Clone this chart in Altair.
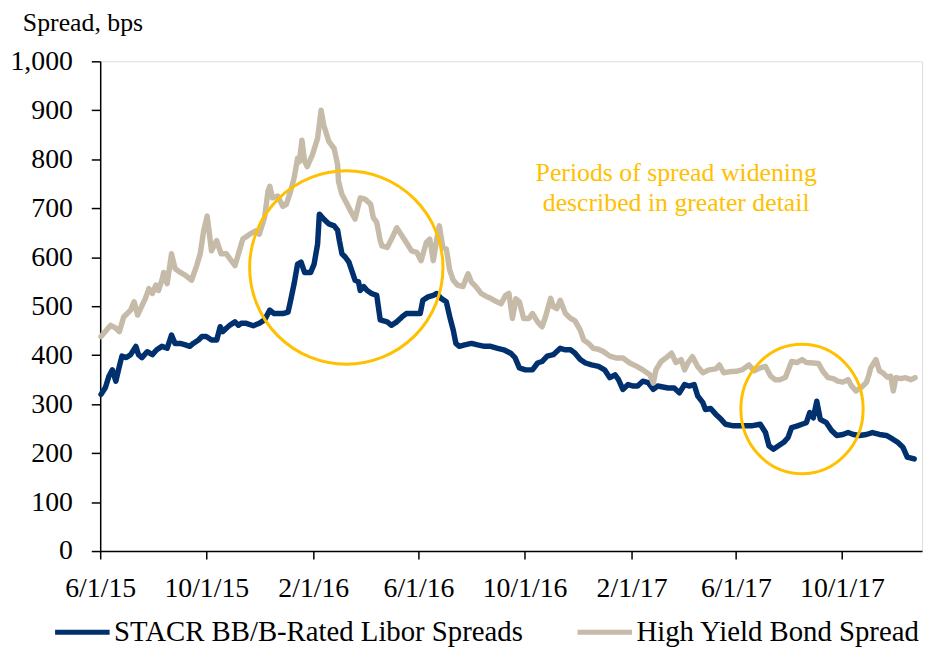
import altair as alt
import pandas as pd

# ---------------- data ----------------
START = "2015-06-01"          # day 0 of the day offsets below
series_names = ["STACR BB/B-Rated Libor Spreads", "High Yield Bond Spread"]
series_colors = ["#00306E", "#C6BBA8"]

# STACR BB/B-rated Libor spreads (days since 6/1/15, bps)
stacr_day = [1, 6, 10, 14, 18, 22, 25, 30, 35, 41,
             44, 48, 54, 60, 65, 71, 77, 82, 86, 92,
             98, 103, 107, 113, 117, 122, 128, 134, 138, 141,
             145, 149, 155, 159, 162, 168, 176, 183, 189, 195,
             200, 210, 216, 219, 223, 227, 231, 235, 242, 246,
             250, 252, 257, 263, 269, 273, 275, 278, 282, 286,
             290, 293, 297, 299, 303, 307, 312, 318, 322, 330,
             335, 341, 347, 352, 358, 368, 371, 377, 383, 387,
             392, 398, 402, 406, 409, 413, 419, 427, 434, 442,
             449, 457, 464, 472, 477, 482, 489, 497, 503, 508,
             514, 521, 529, 535, 541, 546, 552, 558, 565, 573,
             580, 586, 592, 596, 601, 607, 613, 618, 624, 630,
             636, 641, 647, 653, 660, 666, 672, 677, 683, 687,
             693, 696, 702, 708, 714, 719, 727, 734, 742, 750,
             759, 765, 769, 774, 780, 786, 791, 795, 801, 807,
             812, 816, 820, 824, 828, 835, 841, 847, 854, 860,
             866, 873, 881, 888, 896, 904, 911, 917, 923, 928,
             936]
stacr_bps = [320, 334, 357, 370, 347, 377, 398, 395, 401, 418,
             401, 395, 407, 401, 411, 418, 414, 441, 424, 424,
             421, 418, 424, 431, 438, 438, 431, 431, 458, 448,
             455, 461, 468, 461, 465, 465, 460, 465, 472, 492,
             485, 485, 488, 512, 546, 586, 590, 569, 569, 586,
             627, 688, 678, 668, 664, 655, 634, 607, 600, 590,
             569, 553, 550, 532, 540, 532, 526, 522, 472, 468,
             461, 468, 478, 485, 485, 485, 512, 519, 522, 526,
             516, 509, 478, 451, 424, 418, 421, 424, 421, 418,
             418, 414, 411, 404, 395, 374, 370, 370, 384, 387,
             398, 401, 414, 411, 411, 404, 391, 384, 380, 377,
             370, 354, 360, 350, 330, 340, 337, 337, 347, 344,
             330, 337, 335, 333, 333, 323, 340, 337, 340, 317,
             303, 289, 291, 279, 269, 259, 256, 256, 256, 256,
             259, 242, 215, 208, 215, 222, 232, 252, 255, 259,
             262, 283, 272, 306, 269, 262, 246, 236, 238, 242,
             238, 236, 238, 242, 238, 236, 229, 222, 212, 192,
             188]

# High yield bond spread (days since 6/1/15, bps)
hy_day = [1, 12, 18, 22, 27, 35, 39, 43, 52, 56,
          60, 64, 67, 71, 73, 77, 82, 86, 92, 98,
          105, 111, 115, 119, 123, 128, 134, 139, 145, 149,
          155, 160, 164, 172, 179, 183, 189, 193, 195, 198,
          204, 210, 214, 219, 223, 227, 229, 232, 235, 238,
          244, 250, 254, 257, 263, 269, 273, 274, 278, 284,
          288, 293, 299, 305, 311, 314, 318, 322, 324, 330,
          335, 341, 347, 352, 358, 364, 369, 375, 379, 383,
          387, 390, 394, 398, 402, 406, 411, 417, 423, 427,
          432, 438, 444, 449, 455, 461, 466, 470, 474, 478,
          482, 484, 487, 493, 497, 503, 508, 512, 518, 521,
          525, 529, 535, 541, 546, 552, 556, 561, 567, 573,
          579, 586, 594, 601, 609, 617, 624, 632, 636, 639,
          645, 651, 657, 662, 668, 672, 676, 681, 687, 693,
          700, 708, 712, 717, 723, 731, 738, 746, 752, 759,
          765, 771, 776, 782, 788, 795, 801, 807, 812, 820,
          826, 831, 837, 843, 848, 854, 860, 864, 869, 875,
          881, 884, 886, 892, 896, 900, 905, 909, 912, 915,
          921, 926, 932, 937]
hy_bps = [438, 461, 455, 448, 478, 492, 509, 482, 516, 536,
          526, 543, 532, 553, 569, 546, 607, 577, 569, 563,
          553, 583, 607, 654, 684, 613, 634, 607, 607, 597,
          583, 613, 637, 647, 654, 647, 681, 735, 745, 721,
          725, 704, 708, 735, 762, 802, 795, 839, 796, 785,
          809, 843, 900, 870, 836, 822, 789, 755, 728, 708,
          694, 678, 721, 718, 708, 681, 671, 634, 623, 620,
          637, 660, 644, 630, 613, 610, 593, 630, 637, 593,
          637, 664, 620, 617, 573, 553, 543, 540, 566, 549,
          540, 526, 520, 516, 510, 505, 522, 526, 475, 515,
          509, 495, 475, 475, 485, 468, 458, 478, 516, 499,
          495, 512, 485, 475, 470, 451, 431, 425, 414, 412,
          407, 398, 394, 394, 384, 377, 370, 360, 343, 370,
          387, 395, 404, 385, 391, 370, 385, 397, 377, 364,
          370, 372, 380, 364, 366, 367, 370, 380, 368, 374,
          377, 357, 350, 350, 355, 387, 385, 391, 385, 384,
          383, 367, 354, 352, 347, 345, 350, 337, 327, 334,
          344, 360, 374, 391, 368, 364, 355, 357, 327, 354,
          352, 354, 350, 354]

# axis ticks
x_tick_dates = [(2015, 6), (2015, 10), (2016, 2), (2016, 6),
                (2016, 10), (2017, 2), (2017, 6), (2017, 10)]
y_ticks = [0, 100, 200, 300, 400, 500, 600, 700, 800, 900, 1000]

# highlighted periods (centre date, centre bps)
circle_dates = ["2016-03-10", "2017-08-16"]
circle_bps = [579, 290]

annotation_lines = ["Periods of spread widening", "described in greater detail"]
y_title = "Spread, bps"

# ---------------- build tables ----------------
start = pd.Timestamp(START)


def to_date(d):
    return (start + pd.Timedelta(days=d)).strftime("%Y-%m-%dT00:00:00")


lines_df = pd.concat([
    pd.DataFrame({"date": [to_date(d) for d in stacr_day], "bps": stacr_bps,
                  "series": series_names[0]}),
    pd.DataFrame({"date": [to_date(d) for d in hy_day], "bps": hy_bps,
                  "series": series_names[1]}),
], ignore_index=True)

circles_df = pd.DataFrame({"date": [d + "T00:00:00" for d in circle_dates],
                           "bps": circle_bps})

FONT = "Liberation Serif"
GOLD = "#FFC000"

x_enc = alt.X(
    "date:T",
    scale=alt.Scale(domain=[alt.DateTime(year=2015, month=6, date=1),
                            alt.DateTime(year=2018, month=1, date=1)]),
    axis=alt.Axis(
        values=[alt.DateTime(year=y, month=m, date=1) for y, m in x_tick_dates],
        format="%-m/%-d/%y", formatType="time", title=None, grid=False,
        tickSize=8, labelPadding=16, labelFlush=False, labelOverlap=False,
        labelFont=FONT, labelFontSize=28, labelColor="black",
        domainColor="black", tickColor="black", domainWidth=1.5, tickWidth=1.5,
    ),
)
y_enc = alt.Y(
    "bps:Q",
    scale=alt.Scale(domain=[0, 1000], nice=False),
    axis=alt.Axis(
        values=y_ticks, format=",d", title=None, grid=False,
        tickSize=9, labelPadding=19, labelFont=FONT, labelFontSize=28,
        labelColor="black", domainColor="black", tickColor="black",
        domainWidth=1.5, tickWidth=1.5,
    ),
)

lines = alt.Chart(lines_df).mark_line(
    strokeWidth=5.5, strokeJoin="round", strokeCap="round"
).encode(
    x=x_enc,
    y=y_enc,
    color=alt.Color(
        "series:N",
        scale=alt.Scale(domain=series_names, range=series_colors),
        sort=series_names,
        legend=alt.Legend(
            title=None, orient="none", legendX=-48, legendY=546,
            direction="horizontal", symbolType="stroke", symbolSize=3025,
            symbolStrokeWidth=5, labelFontSize=29, labelFont=FONT,
            labelColor="black", labelOffset=2, columnPadding=44,
            labelLimit=0, padding=0,
        ),
    ),
)

big_circle = alt.Chart(circles_df.iloc[[0]]).mark_point(
    shape="circle", size=38025, filled=False, color=GOLD,
    strokeWidth=3, opacity=1,
).encode(x="date:T", y="bps:Q")

small_circle = alt.Chart(circles_df.iloc[[1]]).mark_point(
    shape="M-0.944,0 A0.944,1 0 1,0 0.944,0 A0.944,1 0 1,0 -0.944,0 Z",
    size=17080, filled=False, color=GOLD, strokeWidth=3, opacity=1,
).encode(x="date:T", y="bps:Q")

annotation = alt.Chart(alt.Data(values=[{}])).mark_text(
    text=annotation_lines, font=FONT, fontSize=26, color=GOLD,
    align="center", baseline="alphabetic", lineHeight=30,
).encode(x=alt.value(581), y=alt.value(121))

title_text = alt.Chart(alt.Data(values=[{}])).mark_text(
    text=y_title, font=FONT, fontSize=26, color="black",
    align="left", baseline="alphabetic",
).encode(x=alt.value(-78), y=alt.value(-31))

chart = alt.layer(
    lines, big_circle, small_circle, annotation, title_text
).properties(
    width=829, height=494,
    autosize=alt.AutoSizeParams(type="none"),
    padding={"left": 93, "top": 51, "right": 2, "bottom": 95},
).configure_view(
    stroke=None
).configure(
    background="white"
)

chart.save("out.html", embed_options={"renderer": "svg", "actions": False})
